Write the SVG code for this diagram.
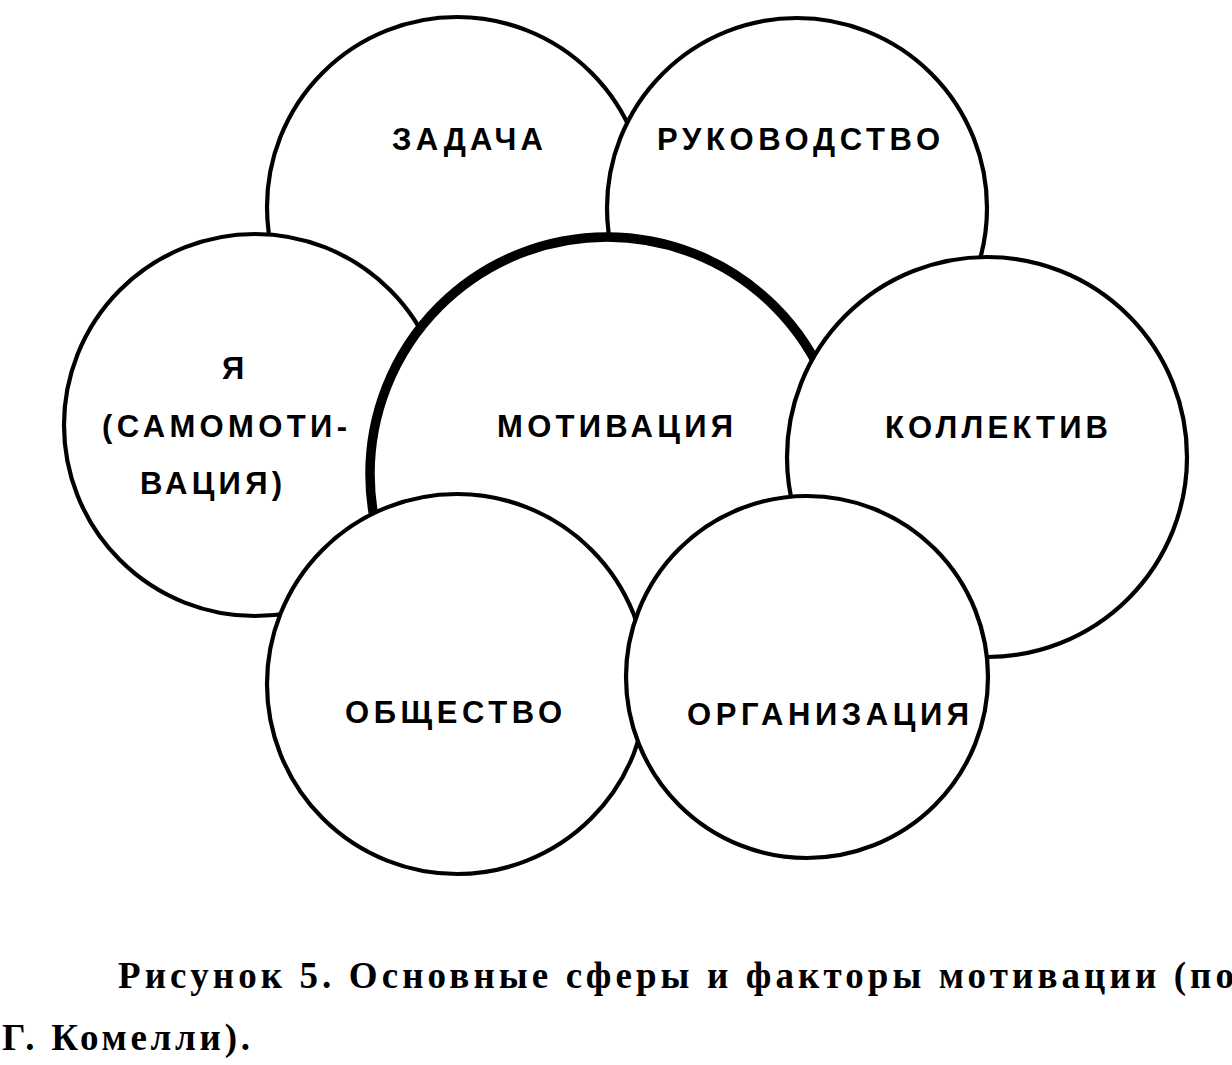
<svg xmlns="http://www.w3.org/2000/svg" width="1232" height="1065" viewBox="0 0 1232 1065">
<style>
.c{fill:#fff;stroke:#000;stroke-width:4.2}
.m{fill:#fff;stroke:#000;stroke-width:9.5}
.t{font-family:"Liberation Sans",Arial,sans-serif;font-weight:bold;font-size:31px;fill:#000}
.cap{font-family:"Liberation Serif","Times New Roman",serif;font-weight:bold;font-size:37px;fill:#000}
</style>
<rect width="1232" height="1065" fill="#fff"/>
<g id="zadacha">
<circle class="c" cx="457" cy="207" r="190"/>
<text class="t" x="392" y="150" textLength="151" lengthAdjust="spacing">ЗАДАЧА</text>
</g>
<g id="rukovodstvo">
<circle class="c" cx="797" cy="208" r="190"/>
<text class="t" x="657" y="150" textLength="283" lengthAdjust="spacing">РУКОВОДСТВО</text>
</g>
<g id="ya">
<circle class="c" cx="255" cy="425" r="191"/>
<text class="t" x="222" y="379" textLength="21" lengthAdjust="spacing">Я</text>
<text class="t" x="102" y="437" textLength="245" lengthAdjust="spacing">(САМОМОТИ-</text>
<text class="t" x="140" y="494" textLength="142" lengthAdjust="spacing">ВАЦИЯ)</text>
</g>
<g id="motivaciya">
<circle class="m" cx="607" cy="474" r="237"/>
<text class="t" x="497" y="437" textLength="236" lengthAdjust="spacing">МОТИВАЦИЯ</text>
</g>
<g id="kollektiv">
<circle class="c" cx="987" cy="457" r="200"/>
<text class="t" x="885" y="438" textLength="223" lengthAdjust="spacing">КОЛЛЕКТИВ</text>
</g>
<g id="obshchestvo">
<circle class="c" cx="457" cy="684" r="190"/>
<text class="t" x="345" y="723" textLength="217" lengthAdjust="spacing">ОБЩЕСТВО</text>
</g>
<g id="organizaciya">
<circle class="c" cx="807" cy="677" r="181"/>
<text class="t" x="687" y="725" textLength="282" lengthAdjust="spacing">ОРГАНИЗАЦИЯ</text>
</g>
<g id="connectors"/>
<g id="caption">
<text class="cap" x="118" y="988" textLength="1116" lengthAdjust="spacing">Рисунок 5.  Основные сферы и факторы мотивации (по</text>
<text class="cap" x="2" y="1050" textLength="248" lengthAdjust="spacing">Г. Комелли).</text>
</g>
</svg>
